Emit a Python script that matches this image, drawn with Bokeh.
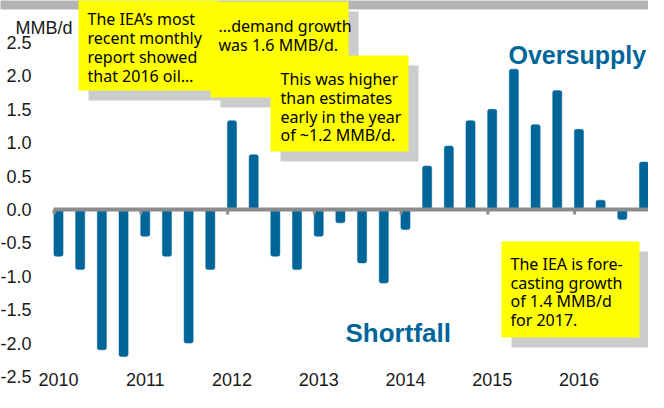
from bokeh.plotting import figure
from bokeh.models import (ColumnDataSource, FixedTicker, NumeralTickFormatter,
                          BoxAnnotation, Label, Range1d)
from bokeh.embed import file_html
from bokeh.resources import INLINE

# ---- data ----
years = [2010, 2011, 2012, 2013, 2014, 2015, 2016]
year_labels = ["2010", "2011", "2012", "2013", "2014", "2015", "2016"]
quarter_values = [
    -0.70, -0.90, -2.10, -2.20,   # 2010
    -0.40, -0.70, -2.00, -0.90,   # 2011
     1.33,  0.82, -0.70, -0.90,   # 2012
    -0.40, -0.20, -0.80, -1.10,   # 2013
    -0.30,  0.65,  0.95,  1.33,   # 2014
     1.50,  2.10,  1.27,  1.78,   # 2015
     1.20,  0.14, -0.15,  0.71,   # 2016
]
y_ticks = [-2.5, -2.0, -1.5, -1.0, -0.5, 0.0, 0.5, 1.0, 1.5, 2.0, 2.5]
y_unit = "MMB/d"

callout_1 = ["The IEA\u2019s most", "recent monthly", "report showed", "that 2016 oil\u2026"]
callout_2 = ["\u2026demand growth", "was 1.6 MMB/d."]
callout_3 = ["This was higher", "than estimates", "early in the year", "of ~1.2 MMB/d."]
callout_4 = ["The IEA is fore-", "casting growth", "of 1.4 MMB/d", "for 2017."]

# ---- geometry (canvas pixels) ----
W, H = 648, 392
PX_PER_Q = 21.685      # pixels per quarter
X_ZERO_PX = 58.0       # x of first quarter
PX_PER_UNIT = 66.8     # pixels per MMB/d
Y_ZERO_PX = 209.0      # y of zero

def dx(px):
    return (px - X_ZERO_PX) / PX_PER_Q

def dy(py):
    return (Y_ZERO_PX - py) / PX_PER_UNIT

BLUE = "#006699"
TXT = "#1a1a1a"
YELLOW = "#ffff00"
SHADOW = "#cccccc"

x_idx = list(range(len(quarter_values)))
src = ColumnDataSource(dict(x=x_idx, v=quarter_values))

p = figure(width=W, height=H, output_backend="svg", toolbar_location=None,
           x_range=Range1d(dx(0), dx(W)), y_range=Range1d(dy(H), dy(0)),
           min_border=0, min_border_left=0, min_border_right=0,
           min_border_top=0, min_border_bottom=0)
p.outline_line_color = None
p.xgrid.grid_line_color = None
p.ygrid.grid_line_color = None
p.background_fill_color = "white"
p.border_fill_color = "white"

# axes (drawn at fixed locations inside the canvas)
year_pos = [(y - years[0]) * 4 for y in years]
p.xaxis.fixed_location = dy(366)
p.xaxis.ticker = FixedTicker(ticks=year_pos)
p.xaxis.major_label_overrides = {pos: lab for pos, lab in zip(year_pos, year_labels)}
p.xaxis.axis_line_color = None
p.xaxis.major_tick_line_color = None
p.xaxis.minor_tick_line_color = None
p.xaxis.major_label_standoff = 0
p.xaxis.major_label_text_font = "Liberation Sans"
p.xaxis.major_label_text_font_size = "18px"
p.xaxis.major_label_text_color = TXT

p.yaxis.fixed_location = dx(53)
p.yaxis.ticker = FixedTicker(ticks=y_ticks)
p.yaxis.formatter = NumeralTickFormatter(format="0.0")
p.yaxis.axis_line_color = None
p.yaxis.major_tick_line_color = None
p.yaxis.minor_tick_line_color = None
p.yaxis.major_label_standoff = 16
p.yaxis.major_label_text_font = "Liberation Sans"
p.yaxis.major_label_text_font_size = "18px"
p.yaxis.major_label_text_color = TXT

# bars
p.vbar(x="x", top="v", bottom=0, width=0.42, source=src,
       fill_color=BLUE, line_color=BLUE, line_width=0.5, border_radius=2)

# zero line + small year ticks
p.segment(x0=[x_idx[0] - 0.23], y0=[0], x1=[x_idx[-1] + 0.21], y1=[0],
          line_color="#8c8c8c", line_width=4)
tick_x = [pos - 0.2 for pos in year_pos]
p.segment(x0=tick_x, y0=[0] * len(tick_x), x1=tick_x, y1=[dy(214)] * len(tick_x),
          line_color="#8c8c8c", line_width=3)

# top grey strip
p.add_layout(BoxAnnotation(left=dx(-10), right=dx(W + 10), top=dy(-5), bottom=dy(9),
                           fill_color="#b3b3b3", fill_alpha=1, line_alpha=0))

def callout(l, t, r, b, lines, tx, baselines):
    p.add_layout(BoxAnnotation(left=dx(l + 10), right=dx(r + 10), top=dy(t + 10), bottom=dy(b + 10),
                               fill_color=SHADOW, fill_alpha=1, line_alpha=0))
    p.add_layout(BoxAnnotation(left=dx(l), right=dx(r), top=dy(t), bottom=dy(b),
                               fill_color=YELLOW, fill_alpha=1, line_alpha=0))
    for s, bl in zip(lines, baselines):
        p.add_layout(Label(x=dx(tx), y=dy(bl), text=s, text_font="Noto Sans",
                           text_font_size="16px", text_color="black",
                           text_baseline="alphabetic", text_align="left"))

callout(78, -5, 217, 90, callout_1, 87, [18, 37, 56, 75])
callout(210, 1, 348, 97, callout_2, 218, [25, 44])
callout(270, 55, 408, 151, callout_3, 280, [78, 97, 116, 134])
callout(501, 241, 639, 337, callout_4, 510, [263, 282, 300, 319])

# region labels
p.add_layout(Label(x=dx(508), y=dy(54), text="Oversupply", text_font="Liberation Sans",
                   text_font_style="bold", text_font_size="25px", text_color=BLUE,
                   text_baseline="alphabetic"))
p.add_layout(Label(x=dx(345), y=dy(332), text="Shortfall", text_font="Liberation Sans",
                   text_font_style="bold", text_font_size="26px", text_color=BLUE,
                   text_baseline="alphabetic"))
p.add_layout(Label(x=dx(15), y=dy(27), text=y_unit, text_font="Liberation Sans",
                   text_font_size="18px", text_color=TXT, text_baseline="alphabetic"))

open("out.html", "w").write(file_html(p, INLINE))
